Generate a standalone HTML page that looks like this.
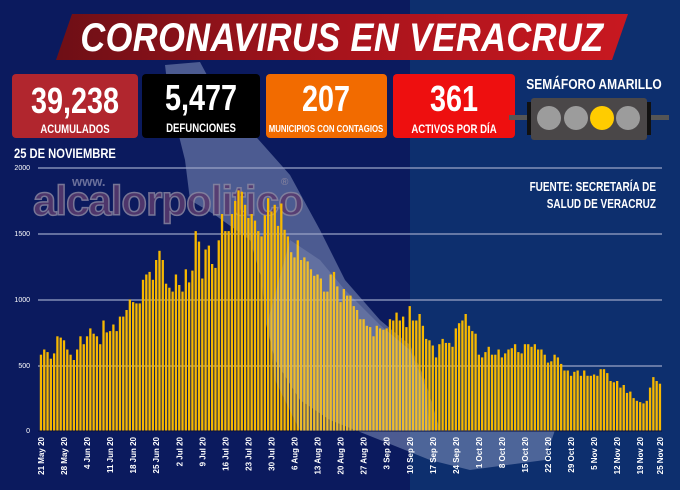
<!DOCTYPE html>
<html><head><meta charset="utf-8"><style>
html,body{margin:0;padding:0;background:#0b1a5e;}
svg{display:block;font-family:"Liberation Sans",Arial,sans-serif;}
</style></head><body>
<svg width="680" height="490" viewBox="0 0 680 490" xmlns="http://www.w3.org/2000/svg">
<defs>
<linearGradient id="ban" x1="0" x2="1"><stop offset="0" stop-color="#6e0f16"/><stop offset="0.5" stop-color="#a8141c"/><stop offset="1" stop-color="#c81820"/></linearGradient>
</defs>
<rect x="0" y="0" width="680" height="490" fill="#0b1a5e"/>
<rect x="410" y="0" width="270" height="490" fill="#0d2f6e"/>
<!-- map -->
<polygon points="165,65 200,62 215,90 250,130 290,175 320,230 345,280 380,320 410,345 425,380 440,430 555,430 545,460 470,470 430,460 380,440 330,420 300,400 275,360 265,320 262,280 250,240 215,215 190,200 185,160 175,120 168,90" fill="#8d9cc4" opacity="0.5"/>
<!-- banner -->
<polygon points="72,14 628,14 612,60 56,60" fill="url(#ban)"/>
<text x="342" y="51" text-anchor="middle" font-size="40" font-weight="bold" font-style="italic" fill="#fff" transform="translate(342,0) scale(0.86,1) translate(-342,0)" letter-spacing="0.5">CORONAVIRUS EN VERACRUZ</text>
<!-- boxes -->
<rect x="12" y="74" width="126" height="64" rx="4" fill="#b1262e"/>
<text x="75" y="113" text-anchor="middle" font-size="36" font-weight="bold" fill="#fff" transform="translate(75,0) scale(0.8,1) translate(-75,0)">39,238</text>
<text x="75" y="133" text-anchor="middle" font-size="12" font-weight="bold" fill="#fff" transform="translate(75,0) scale(0.8,1) translate(-75,0)">ACUMULADOS</text>
<rect x="142" y="74" width="118" height="64" rx="4" fill="#000"/>
<text x="201" y="110" text-anchor="middle" font-size="36" font-weight="bold" fill="#fff" transform="translate(201,0) scale(0.8,1) translate(-201,0)">5,477</text>
<text x="201" y="132" text-anchor="middle" font-size="12" font-weight="bold" fill="#fff" transform="translate(201,0) scale(0.8,1) translate(-201,0)">DEFUNCIONES</text>
<rect x="266" y="74" width="121" height="64" rx="4" fill="#f26b00"/>
<text x="326" y="111" text-anchor="middle" font-size="36" font-weight="bold" fill="#fff" transform="translate(326,0) scale(0.8,1) translate(-326,0)">207</text>
<text x="326" y="132" text-anchor="middle" font-size="10" font-weight="bold" fill="#fff" transform="translate(326,0) scale(0.78,1) translate(-326,0)">MUNICIPIOS CON CONTAGIOS</text>
<rect x="393" y="74" width="122" height="64" rx="4" fill="#ee0f0f"/>
<text x="454" y="111" text-anchor="middle" font-size="36" font-weight="bold" fill="#fff" transform="translate(454,0) scale(0.8,1) translate(-454,0)">361</text>
<text x="454" y="133" text-anchor="middle" font-size="12" font-weight="bold" fill="#fff" transform="translate(454,0) scale(0.8,1) translate(-454,0)">ACTIVOS POR DÍA</text>
<text x="594" y="89" text-anchor="middle" font-size="15" font-weight="bold" fill="#fff" transform="translate(594,0) scale(0.8,1) translate(-594,0)">SEMÁFORO AMARILLO</text>
<rect x="509" y="115" width="160" height="5" fill="#555"/>
<rect x="527" y="102" width="124" height="33" fill="#111"/>
<rect x="531" y="98" width="116" height="42" rx="3" fill="#4a4748"/>
<circle cx="549" cy="118" r="12" fill="#9c9c9c"/>
<circle cx="576" cy="118" r="12" fill="#9c9c9c"/>
<circle cx="602" cy="118" r="12" fill="#ffcc00"/>
<circle cx="628" cy="118" r="12" fill="#9c9c9c"/>
<text x="14" y="158" font-size="14" font-weight="bold" fill="#fff" transform="translate(14,0) scale(0.8,1) translate(-14,0)">25 DE NOVIEMBRE</text>
<text x="656" y="191" text-anchor="end" font-size="12.5" font-weight="bold" fill="#fff" transform="translate(656,0) scale(0.8,1) translate(-656,0)">FUENTE: SECRETARÍA DE</text>
<text x="656" y="208" text-anchor="end" font-size="12.5" font-weight="bold" fill="#fff" transform="translate(656,0) scale(0.8,1) translate(-656,0)">SALUD DE VERACRUZ</text>
<!-- watermark -->
<text x="72" y="186" font-size="13" font-weight="bold" fill="#6a6f9a">www.</text>
<text x="33" y="215" font-size="42" font-weight="bold" fill="#5a3a6e" stroke="#8a86a0" stroke-width="1.5" opacity="0.85" letter-spacing="-1">alcalorpolitico</text>
<text x="281" y="185" font-size="10" fill="#8a86a0">®</text>
<!-- gridlines -->
<g stroke="#9aa3c6" stroke-width="1.2">
<line x1="38" y1="168" x2="662" y2="168"/><line x1="38" y1="234" x2="662" y2="234"/>
<line x1="38" y1="300" x2="662" y2="300"/><line x1="38" y1="366" x2="662" y2="366"/>
</g>
<g font-size="7" fill="#fff" text-anchor="end">
<text x="30" y="170">2000</text><text x="30" y="236">1500</text><text x="30" y="302">1000</text><text x="30" y="368">500</text><text x="30" y="433">0</text>
</g>
<g id="bars"></g>
<line x1="38" y1="431" x2="662" y2="431" stroke="#0a1040" stroke-width="1"/>
<polygon points="290,240 320,260 345,290 380,325 410,350 425,385 430,431 300,431 275,380 268,320" fill="#c8d0ea" opacity="0.18"/>
<g id="labels" font-size="8" font-weight="bold" fill="#fff"></g>
</svg>
<script>
var d=[580,620,600,550,590,720,710,690,620,580,540,620,720,660,720,780,740,720,660,840,750,760,810,760,870,870,920,1000,980,970,970,1150,1190,1210,1150,1300,1370,1300,1120,1090,1060,1190,1110,1060,1230,1130,1220,1520,1440,1160,1380,1410,1270,1240,1450,1650,1520,1520,1650,1750,1830,1820,1720,1620,1650,1600,1520,1480,1640,1770,1670,1720,1560,1730,1530,1480,1360,1320,1450,1300,1320,1290,1230,1180,1190,1160,1060,1060,1190,1210,1100,
980,1080,1030,1030,950,920,850,850,800,790,720,800,780,770,780,850,840,900,840,870,790,950,840,840,890,800,700,690,650,560,660,700,670,670,640,780,820,840,890,800,760,740,580,560,600,640,580,580,620,560,590,620,630,660,600,590,660,660,640,660,620,620,580,520,530,580,560,510,460,460,420,450,460,420,460,420,420,430,420,470,470,440,380,370,380,330,350,290,300,250,230,220,210,230,330,410,380,360];
var ns="http://www.w3.org/2000/svg",g=document.getElementById('bars'),L=document.getElementById('labels');
var x0=41,dx=(660-41)/(d.length-1);
for(var i=0;i<d.length;i++){var h=d[i]*0.1315,r=document.createElementNS(ns,'rect');
r.setAttribute('x',(x0+i*dx-1.2).toFixed(2));r.setAttribute('y',(431-h).toFixed(1));r.setAttribute('width','2.3');r.setAttribute('height',h.toFixed(1));r.setAttribute('fill','#f7b800');g.appendChild(r);}
var labs=["21 May 20","28 May 20","4 Jun 20","11 Jun 20","18 Jun 20","25 Jun 20","2 Jul 20","9 Jul 20","16 Jul 20","23 Jul 20","30 Jul 20","6 Aug 20","13 Aug 20","20 Aug 20","27 Aug 20","3 Sep 20","10 Sep 20","17 Sep 20","24 Sep 20","1 Oct 20","8 Oct 20","15 Oct 20","22 Oct 20","29 Oct 20","5 Nov 20","12 Nov 20","19 Nov 20","25 Nov 20"];
for(var k=0;k<labs.length;k++){var idx=k<27?k*7:188,x=x0+idx*dx+3,t=document.createElementNS(ns,'text');
t.setAttribute('x',x);t.setAttribute('y',437);t.setAttribute('text-anchor','end');t.setAttribute('transform','rotate(-90 '+x+' 437)');t.textContent=labs[k];L.appendChild(t);}
</script>
</body></html>
